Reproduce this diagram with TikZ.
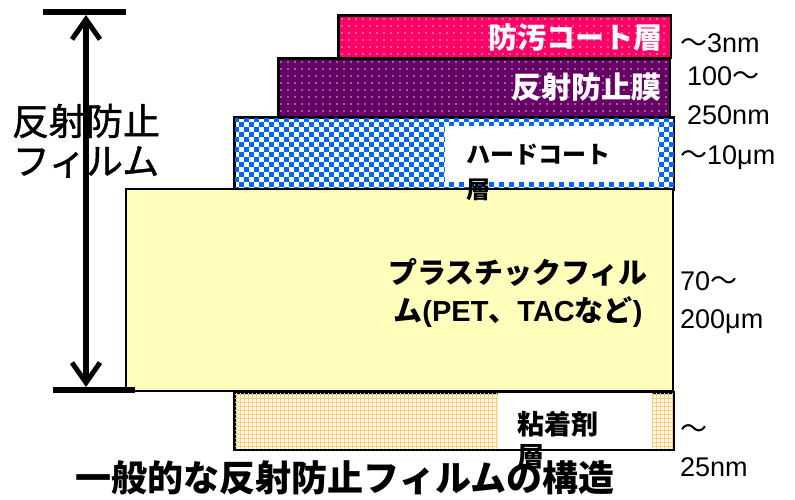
\documentclass[tikz,border=0pt]{standalone}
\usepackage{fontspec}
\setmainfont{Liberation Sans}
\newfontfamily\cjk{Noto Sans CJK JP}
\newfontfamily\cjkmed{Noto Sans CJK JP}[FakeBold=1.2]
\usetikzlibrary{arrows.meta}
\definecolor{agpink}{HTML}{FF0066}
\definecolor{arpurple}{HTML}{660066}
\definecolor{hcblue}{HTML}{0066FF}
\definecolor{filmyellow}{HTML}{FFFFBB}
\definecolor{adorange}{HTML}{FFCC66}
\tikzset{
  layer/.style={draw=black, line width=1.5pt, inner sep=0pt, anchor=north west},
  jp/.style={inner sep=0pt, font=\cjk},
  lbl/.style={inner sep=0pt, anchor=west, font=\fontsize{27}{30}\selectfont},
  dimline/.style={line width=5.5pt},
  dimtip/.style={{Straight Barb[length=20pt, width=28pt, line width=5pt]}-{Straight Barb[length=20pt, width=28pt, line width=5pt]}}
}
\begin{document}
\begin{tikzpicture}[x=1pt, y=-1pt]
\useasboundingbox (0,0) rectangle (795,499);
% anti-fouling layer
\node[layer, fill=agpink, minimum width=332pt, minimum height=42pt] (ag) at (338,15) {};
\begin{scope}
  \clip (ag.north west) rectangle (ag.south east);
  \foreach \x in {342,349,...,670} \foreach \y in {19,26,...,56} \fill[white, opacity=0.75] (\x,\y) circle (0.9);
\end{scope}
\draw[black, line width=1.5pt] (ag.north west) rectangle (ag.south east);
% anti-reflection film
\node[layer, fill=arpurple, minimum width=391pt, minimum height=58pt] (ar) at (278,58) {};
\begin{scope}
  \clip (ar.north west) rectangle (ar.south east);
  \foreach \x in {281,288,...,670} \foreach \y in {62,69,...,115} \fill[white, opacity=0.75] (\x,\y) circle (0.9);
\end{scope}
\draw[black, line width=1.5pt] (ar.north west) rectangle (ar.south east);
% hard coat
\node[layer, fill=white, minimum width=439pt, minimum height=72pt] (hc) at (234,117) {};
\begin{scope}
  \clip (hc.north west) rectangle (hc.south east);
  \foreach \j in {0,...,14}{
    \pgfmathtruncatemacro\off{mod(\j,2)*5}
    \foreach \x in {0,10,...,440} \fill[hcblue] (234+\x+\off,117+5*\j) rectangle ++(5,5);
  }
\end{scope}
\node[inner sep=0pt, anchor=north west, fill=white, minimum width=213pt, minimum height=56pt] (hcw) at (445,126) {};
\draw[black, line width=1.5pt] (hc.north west) rectangle (hc.south east);
% plastic film
\node[layer, fill=filmyellow, minimum width=547pt, minimum height=202pt] (film) at (125,188) {};
% adhesive
\node[layer, fill=white, minimum width=439pt, minimum height=57pt] (ad) at (234,392) {};
\begin{scope}
  \clip (ad.north west) rectangle (ad.south east);
  \foreach \x in {236,240,...,673} \draw[adorange, line width=0.8pt] (\x,392) -- (\x,449);
  \foreach \y in {394,398,...,449} \draw[adorange, line width=0.8pt] (234,\y) -- (673,\y);
\end{scope}
\node[inner sep=0pt, anchor=north west, fill=white, minimum width=154pt, minimum height=57pt] (adw) at (498,392) {};
\draw[black, line width=1.5pt] (ad.north west) rectangle (ad.south east);
% dimension arrow
\coordinate (bartl) at (43,12);
\coordinate (bartr) at (126,12);
\coordinate (barbl) at (53,390);
\coordinate (barbr) at (135,390);
\coordinate (atop) at (86,15);
\coordinate (abot) at (86,387);
\draw[dimline] (bartl) -- (bartr);
\draw[dimline] (barbl) -- (barbr);
\draw[dimline, dimtip] (atop) -- (abot);
% left label
\node[jp, font=\cjkmed\fontsize{37}{40}\selectfont] (lt1) at (86,121) {反射防止};
\node[jp, font=\cjkmed\fontsize{37}{40}\selectfont] (lt2) at (86,162) {フィルム};
% layer labels
\node[jp, anchor=east, text=white, font=\cjk\bfseries\fontsize{29}{32}\selectfont] (agt) at (663,37) {防汚コート層};
\node[jp, anchor=east, text=white, font=\cjk\bfseries\fontsize{30}{33}\selectfont] (art) at (662,87) {反射防止膜};
\node[jp, anchor=west, font=\cjk\bfseries\fontsize{24}{28}\selectfont] (hct1) at (466,155) {ハードコート};
\node[jp, anchor=west, font=\cjk\bfseries\fontsize{24}{28}\selectfont] (hct2) at (466,190) {層};
\node[jp, font=\cjk\bfseries\fontsize{29}{32}\selectfont] (ft1) at (518,272) {プラスチックフィル};
\node[jp, font=\cjk\bfseries\fontsize{29}{32}\selectfont] (ft2) at (518,312) {ム{\fontspec{Liberation Sans}\bfseries(PET}、{\fontspec{Liberation Sans}\bfseries TAC}など{\fontspec{Liberation Sans}\bfseries)}};
\node[jp, anchor=west, font=\cjk\bfseries\fontsize{27}{30}\selectfont] (adt1) at (517,424) {粘着剤};
\node[jp, anchor=west, font=\cjk\bfseries\fontsize{27}{30}\selectfont] (adt2) at (517,457) {層};
% thickness labels
\node[lbl] (r1) at (680,43) {{\cjk ～}3nm};
\node[lbl] (r2) at (687,76) {100{\cjk ～}};
\node[lbl] (r3) at (687,115) {250nm};
\node[lbl] (r4) at (680,158) {{\cjk ～}10μm};
\node[lbl] (r5) at (680,281) {70{\cjk ～}};
\node[lbl] (r6) at (680,322) {200μm};
\node[lbl] (r7) at (680,432) {{\cjk ～}};
\node[lbl] (r8) at (680,467) {25nm};
% title
\node[jp, font=\cjk\bfseries\fontsize{36}{39}\selectfont] (title) at (345,478) {一般的な反射防止フィルムの構造};
\end{tikzpicture}
\end{document}
